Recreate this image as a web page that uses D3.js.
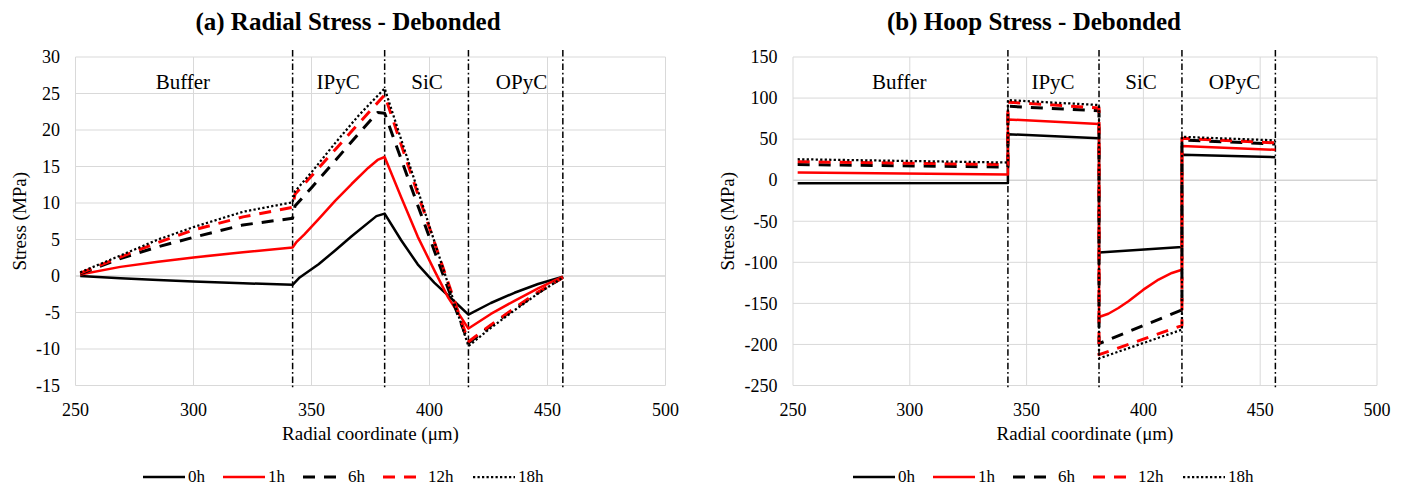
<!DOCTYPE html>
<html>
<head>
<meta charset="utf-8">
<script src="https://cdn.jsdelivr.net/npm/d3@7"></script>
<style>
  body { margin: 0; background: #fff; }
</style>
</head>
<body>
<svg id="chart" width="1405" height="486" font-family="'Liberation Serif', 'DejaVu Serif', serif"></svg>
<script>
// shared x axis + layer info
const xTicks = [250, 300, 350, 400, 450, 500];
const interfaces = [342, 381, 416.5, 456.5];
const layerNames = ['Buffer', 'IPyC', 'SiC', 'OPyC'];
const layerCenters = [295.5, 361.3, 399, 439];
const seriesNames = ['0h', '1h', '6h', '12h', '18h'];

// (a) radial stress, [r (um), MPa]
const radialTicks = [-15, -10, -5, 0, 5, 10, 15, 20, 25, 30];
const radial0h = [[252,0],[269,-0.3],[285,-0.55],[300,-0.75],[321,-1.0],[342,-1.2],[345,-0.2],[353,1.6],[360,3.5],[367,5.45],[377.5,8.2],[381,8.55],[388,4.9],[395,1.6],[402,-0.9],[408,-2.7],[416.5,-5.3],[426,-3.7],[436,-2.3],[446,-1.1],[456.5,-0.1]];
const radial1h = [[252,0.2],[269,1.25],[285,1.95],[300,2.55],[321,3.25],[342,3.9],[343.5,4.6],[347,5.7],[353,7.8],[360,10.3],[367,12.6],[374,14.8],[378,15.9],[381,16.3],[388,10.8],[395,5.4],[402,0.8],[408,-3.0],[416.5,-7.2],[426,-5.2],[436,-3.4],[446,-1.7],[456.5,-0.1]];
const radial6h = [[252,0.3],[269,2.4],[285,4.0],[300,5.3],[321,7.0],[342,7.9],[343,9.6],[350,12.1],[360,15.8],[370,19.5],[378,22.4],[381,22.3],[388,16.0],[395,9.7],[402,3.5],[408,-1.8],[416.5,-9.2],[426,-6.8],[436,-4.5],[446,-2.3],[456.5,-0.2]];
const radial12h = [[252,0.4],[269,2.6],[285,4.6],[300,6.3],[321,8.1],[342,9.4],[343,11.2],[350,13.7],[360,17.3],[370,20.9],[381,24.8],[388,18.0],[395,11.3],[402,4.7],[408,-1.0],[416.5,-9.0],[426,-6.7],[436,-4.4],[446,-2.2],[456.5,-0.2]];
const radial18h = [[252,0.5],[269,2.8],[285,5.0],[300,6.7],[321,8.8],[342,10.1],[343,11.6],[350,14.2],[360,18.2],[370,22.0],[381,25.7],[388,18.7],[395,11.8],[402,4.8],[408,-1.2],[416.5,-9.6],[426,-7.1],[436,-4.7],[446,-2.4],[456.5,-0.2]];

// (b) hoop stress
const hoopTicks = [-250, -200, -150, -100, -50, 0, 50, 100, 150];
const hoop0h = [[252,-3.8],[342,-3.3],[342,56],[381,51],[381,-88],[416.5,-81.5],[416.5,31],[456.5,28]];
const hoop1h = [[252,9.3],[342,6.8],[342,74],[381,68.5],[381,-166.6],[385,-162.6],[389.3,-155.6],[393.6,-147.5],[400,-133.3],[406.5,-121],[412.2,-113],[416.5,-109],[416.5,41.5],[456.5,37]];
const hoop6h = [[252,19],[342,16],[342,90],[381,84.5],[381,-199],[416.5,-158],[416.5,49],[456.5,44]];
const hoop12h = [[252,22.5],[342,19],[342,95],[381,88],[381,-212.5],[416.5,-177],[416.5,51],[456.5,45.5]];
const hoop18h = [[252,25.5],[342,21.5],[342,97.5],[381,91.5],[381,-217],[416.5,-182],[416.5,52.8],[456.5,48.5]];

const styles = [
  { color: '#000000', width: 2.5, dash: null },
  { color: '#ff0000', width: 2.5, dash: null },
  { color: '#000000', width: 3, dash: '12,9' },
  { color: '#ff0000', width: 3, dash: '12,9' },
  { color: '#000000', width: 2.25, dash: '2.25,2.25' }
];

const FONT = "'Liberation Serif', 'DejaVu Serif', serif";
const svg = d3.select('#chart');

function drawPanel(opt) {
  const g = svg.append('g').attr('font-family', FONT);
  const x = d3.scaleLinear().domain([250, 500]).range([opt.left, opt.right]);
  const y = d3.scaleLinear().domain([opt.ticks[0], opt.ticks[opt.ticks.length - 1]]).range([opt.bottom, opt.top]);

  // gridlines
  g.selectAll('line.hgrid').data(opt.ticks).enter().append('line')
    .attr('x1', opt.left).attr('x2', opt.right)
    .attr('y1', d => y(d)).attr('y2', d => y(d))
    .attr('stroke', d => d === 0 ? '#bfbfbf' : '#d9d9d9').attr('stroke-width', 1);
  g.selectAll('line.vgrid').data(xTicks).enter().append('line')
    .attr('x1', d => x(d)).attr('x2', d => x(d))
    .attr('y1', opt.top).attr('y2', opt.bottom)
    .attr('stroke', '#d9d9d9').attr('stroke-width', 1);

  // tick labels
  g.selectAll('text.ytick').data(opt.ticks).enter().append('text')
    .attr('x', opt.left - 15.5).attr('y', d => y(d)).attr('dy', '0.35em')
    .attr('text-anchor', 'end').attr('font-family', FONT).attr('font-size', 18)
    .text(d => String(d));
  g.selectAll('text.xtick').data(xTicks).enter().append('text')
    .attr('x', d => x(d)).attr('y', 416)
    .attr('text-anchor', 'middle').attr('font-family', FONT).attr('font-size', 18)
    .text(d => String(d));

  // layer boundaries
  g.selectAll('line.iface').data(interfaces).enter().append('line')
    .attr('x1', d => x(d)).attr('x2', d => x(d))
    .attr('y1', 50).attr('y2', 390)
    .attr('stroke', '#000').attr('stroke-width', 1.5)
    .attr('stroke-dasharray', '6.5,2.7,1.7,2.7');

  g.selectAll('text.layer').data(layerNames).enter().append('text')
    .attr('x', (d, i) => x(layerCenters[i])).attr('y', 89)
    .attr('text-anchor', 'middle').attr('font-family', FONT).attr('font-size', 21)
    .text(d => d);

  // series
  const line = d3.line().x(d => x(d[0])).y(d => y(d[1]));
  opt.series.forEach((s, i) => {
    g.append('path').datum(s)
      .attr('d', line).attr('fill', 'none')
      .attr('stroke', styles[i].color).attr('stroke-width', styles[i].width)
      .attr('stroke-dasharray', styles[i].dash)
      .attr('stroke-linejoin', 'round');
  });

  // titles
  g.append('text').attr('x', opt.titleX).attr('y', 30)
    .attr('text-anchor', 'middle').attr('font-family', FONT)
    .attr('font-size', 25).attr('font-weight', 'bold')
    .text(opt.title);
  g.append('text').attr('x', (opt.left + opt.right) / 2).attr('y', 440)
    .attr('text-anchor', 'middle').attr('font-family', FONT).attr('font-size', 19)
    .text('Radial coordinate (μm)');
  g.append('text')
    .attr('transform', `translate(${opt.yLabelX},${(opt.top + opt.bottom) / 2}) rotate(-90)`)
    .attr('dy', '0.35em').attr('text-anchor', 'middle')
    .attr('font-family', FONT).attr('font-size', 19)
    .text('Stress (MPa)');

  // legend
  const offsets = [0, 80, 160, 240, 330];
  const lg = g.append('g').attr('transform', `translate(${opt.legendX},477)`);
  seriesNames.forEach((name, i) => {
    lg.append('line').attr('x1', offsets[i]).attr('x2', offsets[i] + 42)
      .attr('y1', 0).attr('y2', 0)
      .attr('stroke', styles[i].color).attr('stroke-width', styles[i].width)
      .attr('stroke-dasharray', styles[i].dash);
    lg.append('text').attr('x', offsets[i] + 45).attr('y', 0).attr('dy', '0.32em')
      .attr('font-family', FONT).attr('font-size', 17).text(name);
  });
}

drawPanel({
  left: 75.5, right: 665.5, top: 57, bottom: 385.5,
  ticks: radialTicks,
  series: [radial0h, radial1h, radial6h, radial12h, radial18h],
  title: '(a) Radial Stress - Debonded', titleX: 348,
  yLabelX: 19, legendX: 143
});
drawPanel({
  left: 793, right: 1377, top: 57, bottom: 385.5,
  ticks: hoopTicks,
  series: [hoop0h, hoop1h, hoop6h, hoop12h, hoop18h],
  title: '(b) Hoop Stress - Debonded', titleX: 1034,
  yLabelX: 727, legendX: 853
});
</script>
</body>
</html>
